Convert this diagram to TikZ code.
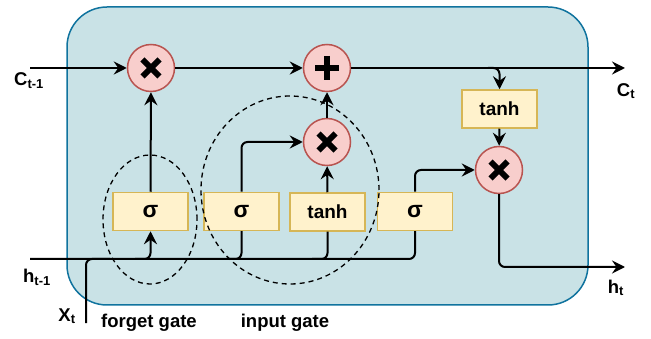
\documentclass[tikz,border=0pt]{standalone}
\usepackage{fontspec}
\setmainfont{Liberation Sans}
\usetikzlibrary{arrows.meta,calc}
\definecolor{bgfill}{RGB}{201,226,230}
\definecolor{bgdraw}{RGB}{16,115,158}
\definecolor{boxfill}{RGB}{255,242,204}
\definecolor{boxdraw}{RGB}{214,182,86}
\definecolor{opfill}{RGB}{248,206,204}
\definecolor{opdraw}{RGB}{184,84,80}
\tikzset{
  lbl/.style={font=\fontsize{18.5}{20}\selectfont\bfseries, inner sep=0pt},
  gatebox/.style={draw=boxdraw, fill=boxfill, line width=1.5pt, minimum width=75pt, minimum height=38pt, inner sep=0pt, font=\fontsize{19}{21}\selectfont\bfseries},
  opnode/.style={circle, draw=opdraw, fill=opfill, line width=1.5pt, minimum size=47pt, inner sep=0pt},
  multop/.style={opnode, path picture={
      \draw[black, line width=6pt] ([shift={(-8.5pt,-8.5pt)}]path picture bounding box.center) -- ([shift={(8.5pt,8.5pt)}]path picture bounding box.center);
      \draw[black, line width=6pt] ([shift={(-8.5pt,8.5pt)}]path picture bounding box.center) -- ([shift={(8.5pt,-8.5pt)}]path picture bounding box.center);}},
  plusop/.style={opnode, path picture={
      \draw[black, line width=6pt] ([shift={(-12pt,0pt)}]path picture bounding box.center) -- ([shift={(12pt,0pt)}]path picture bounding box.center);
      \draw[black, line width=6pt] ([shift={(0pt,12pt)}]path picture bounding box.center) -- ([shift={(0pt,-12pt)}]path picture bounding box.center);}},
  wire/.style={line width=2pt, rounded corners=6pt},
  arr/.style={wire, -{Stealth[length=13pt, width=13pt, inset=4.5pt]}},
  gateoutline/.style={dashed, line width=1.3pt, dash pattern=on 5pt off 4pt}
}
\begin{document}
\begin{tikzpicture}[x=1pt, y=-1pt]
\useasboundingbox (0,0) rectangle (651,339);
% background cell
\draw[fill=bgfill, draw=bgdraw, line width=1.5pt, rounded corners=40pt] (67,7) rectangle (588,305);

% operator nodes
\node[multop] (m1) at (151,68) {};
\node[plusop] (pl) at (327,68) {};
\node[multop] (m2) at (327,142) {};
\node[multop] (m3) at (499,170) {};

% gate boxes
\node[gatebox] (s1) at (150.5,211.5) {\fontsize{23}{24}\selectfont σ};
\node[gatebox] (s2) at (241.5,211.5) {\fontsize{23}{24}\selectfont σ};
\node[gatebox] (th) at (327.5,212) {tanh};
\node[gatebox] (s3) at (415,211.5) {\fontsize{23}{24}\selectfont σ};
\node[gatebox] (tc) at (499.5,109) {tanh};

% dashed gate outlines
\draw[gateoutline] (150,219.5) ellipse [x radius=47pt, y radius=64.5pt];
\draw[gateoutline] (290,190) ellipse [x radius=89pt, y radius=94pt];

% coordinates
\coordinate (cin) at (30,68);
\coordinate (cout) at (625,68);
\coordinate (cb) at (488,68);
\coordinate (hin) at (30,259);
\coordinate (xin) at (86,323);
\coordinate (xj) at (110,259);
\coordinate (b1) at (135,259);
\coordinate (b2) at (226,259);
\coordinate (b3) at (312,259);
\coordinate (hout) at (625,267);

% cell state line
\draw[arr] (cin) -- (m1);
\draw[arr] (m1) -- (pl);
\draw[arr] (pl) -- (cout);
\draw[arr] (cb) -| (tc.north);
\draw[arr] (tc) -- (m3);

% hidden / input line
\draw[wire] (hin) -| (s3.south);
\draw[wire] (xin) |- (xj);
\draw[arr] (b1) -| (s1.south);
\draw[wire] (b2) -| (s2.south);
\draw[wire] (b3) -| (th.south);

% gate outputs
\draw[arr] (s1) -- (m1);
\draw[arr] (s2.north) |- (m2.west);
\draw[arr] (th) -- (m2);
\draw[arr] (m2) -- (pl);
\draw[arr] (s3.north) |- (m3.west);
\draw[arr] (m3.south) |- (hout);

% labels
\node[lbl] (lc0) at (29,81) {C\textsubscript{t-1}};
\node[lbl] (lc1) at (626,91) {C\textsubscript{t}};
\node[lbl] (lh0) at (37,277) {h\textsubscript{t-1}};
\node[lbl] (lh1) at (616,288) {h\textsubscript{t}};
\node[lbl] (lx) at (67,316) {X\textsubscript{t}};
\node[lbl] (lf) at (149,323) {forget gate};
\node[lbl] (li) at (285,323) {input gate};
\end{tikzpicture}
\end{document}
